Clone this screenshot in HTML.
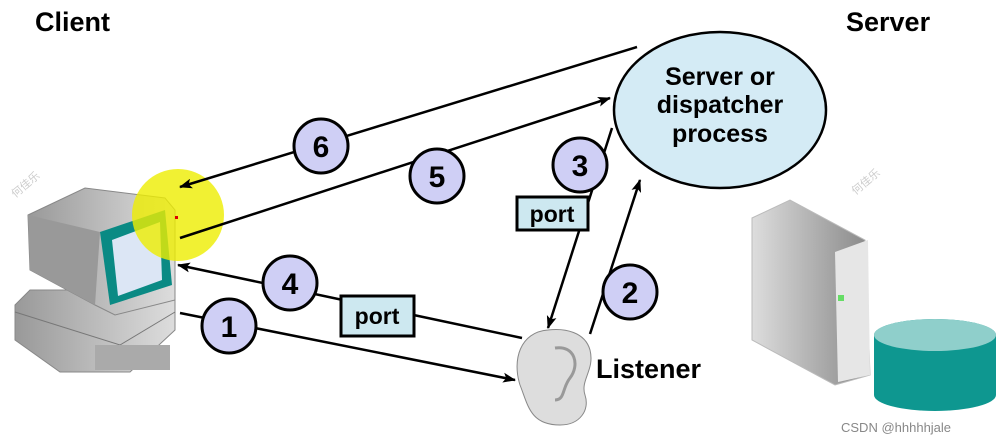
<!DOCTYPE html>
<html><head><style>html,body{margin:0;padding:0;background:#fff}svg{display:block}</style></head>
<body>
<svg width="998" height="444" viewBox="0 0 998 444" xmlns="http://www.w3.org/2000/svg" font-family="Liberation Sans, sans-serif">
<defs>
<marker id="a" markerWidth="13" markerHeight="10" refX="12" refY="5" orient="auto" markerUnits="userSpaceOnUse"><path d="M0,0 L13,5 L0,10 L3,5 z" fill="#000"/></marker>
<linearGradient id="g" x1="0" x2="1"><stop offset="0" stop-color="#ddd"/><stop offset="1" stop-color="#888"/></linearGradient>
<linearGradient id="g2" x1="0" x2="1"><stop offset="0" stop-color="#999"/><stop offset="1" stop-color="#ddd"/></linearGradient>
</defs>
<text x="35" y="31" font-size="27" font-weight="bold">Client</text>
<text x="846" y="31" font-size="27" font-weight="bold">Server</text>
<text x="8" y="192" font-size="11" fill="#ccc" transform="rotate(-40 20 185)">何佳乐</text>
<text x="850" y="190" font-size="11" fill="#ccc" transform="rotate(-40 860 185)">何佳乐</text>
<!-- computer -->
<path d="M15 305 L30 290 L170 290 L175 300 L175 330 L130 372 L60 372 L15 340 Z" fill="url(#g2)" stroke="#888"/>
<path d="M15 312 L120 345 L175 312" fill="none" stroke="#777"/>
<rect x="95" y="345" width="75" height="25" fill="#aaa"/>
<path d="M28 215 L85 188 L165 198 L175 210 L175 300 L115 315 L95 305 L30 270 Z" fill="url(#g2)" stroke="#888"/>
<path d="M28 215 L30 270 L95 305 L100 232 Z" fill="#999"/>
<path d="M100 232 L165 210 L172 285 L110 305 Z" fill="#0a8a84"/>
<path d="M112 240 L160 222 L162 280 L118 296 Z" fill="#dce6f5"/>
<circle cx="178" cy="215" r="46" fill="#eded00" opacity="0.8"/>
<rect x="175" y="216" width="3" height="3" fill="#d00"/>
<!-- server -->
<path d="M752 218 L790 200 L865 240 L870 375 L835 385 L752 340 Z" fill="url(#g)" stroke="#bbb"/>
<path d="M835 252 L868 240 L870 375 L838 382 Z" fill="#e6e6e6"/>
<rect x="838" y="295" width="6" height="6" fill="#6d6"/>
<path d="M874 335 A61 16 0 0 1 996 335 L996 395 A61 16 0 0 1 874 395 Z" fill="#0e9790"/>
<ellipse cx="935" cy="335" rx="61" ry="16" fill="#8fcfcb"/>
<text x="841" y="432" font-size="13" fill="#888">CSDN @hhhhhjale</text>
<!-- ellipse -->
<ellipse cx="720" cy="110" rx="106" ry="78" fill="#d4ebf5" stroke="#000" stroke-width="2.5"/>
<text x="720" y="85" font-size="25" font-weight="bold" text-anchor="middle">Server or</text>
<text x="720" y="113" font-size="25" font-weight="bold" text-anchor="middle">dispatcher</text>
<text x="720" y="142" font-size="25" font-weight="bold" text-anchor="middle">process</text>
<!-- lines -->
<g stroke="#000" stroke-width="2.5" fill="none">
<line x1="637" y1="47" x2="180" y2="187" marker-end="url(#a)"/>
<line x1="180" y1="238" x2="610" y2="98" marker-end="url(#a)"/>
<line x1="612" y1="128" x2="548" y2="328" marker-end="url(#a)"/>
<line x1="590" y1="334" x2="640" y2="180" marker-end="url(#a)"/>
<line x1="522" y1="338" x2="178" y2="265" marker-end="url(#a)"/>
<line x1="180" y1="313" x2="515" y2="380" marker-end="url(#a)"/>
</g>
<!-- ear -->
<path d="M548 330 C520 332 512 360 520 385 C528 405 530 425 560 425 C580 425 590 410 585 395 C580 380 595 370 590 350 C585 332 565 328 548 330 Z" fill="#ddd" stroke="#888"/>
<path d="M555 348 C575 345 580 365 570 378 C562 388 565 400 555 400" fill="none" stroke="#999" stroke-width="3"/>
<text x="596" y="378" font-size="27" font-weight="bold">Listener</text>
<!-- port boxes -->
<rect x="517" y="197" width="71" height="33" fill="#cde8f0" stroke="#000" stroke-width="3"/>
<text x="552" y="222" font-size="23" font-weight="bold" text-anchor="middle">port</text>
<rect x="341" y="296" width="73" height="40" fill="#cde8f0" stroke="#000" stroke-width="3"/>
<text x="377" y="324" font-size="23" font-weight="bold" text-anchor="middle">port</text>
<!-- numbers -->
<g fill="#cfcff5" stroke="#000" stroke-width="3">
<circle cx="321" cy="146" r="27"/><circle cx="437" cy="176" r="27"/><circle cx="580" cy="165" r="27"/>
<circle cx="290" cy="283" r="27"/><circle cx="229" cy="326" r="27"/><circle cx="630" cy="292" r="27"/>
</g>
<g font-size="30" font-weight="bold" text-anchor="middle">
<text x="321" y="157">6</text><text x="437" y="187">5</text><text x="580" y="176">3</text>
<text x="290" y="294">4</text><text x="229" y="337">1</text><text x="630" y="303">2</text>
</g>
</svg>
</body></html>
